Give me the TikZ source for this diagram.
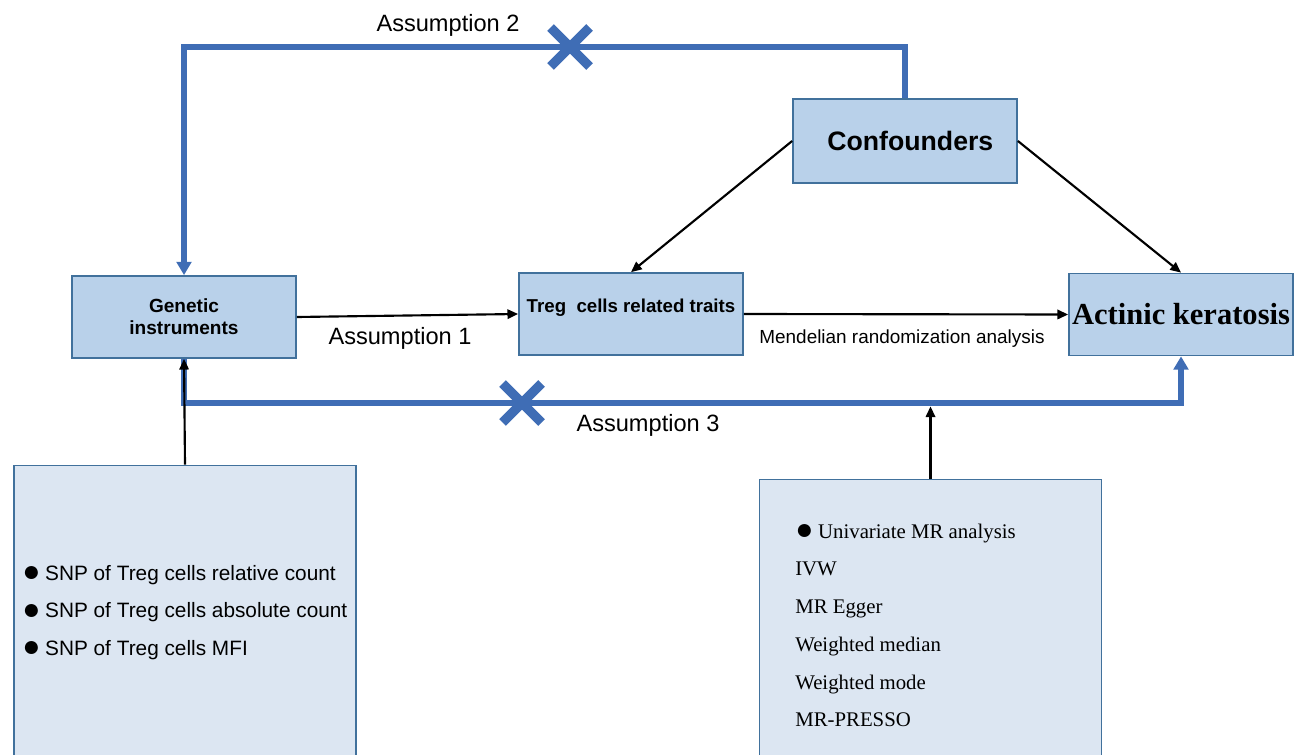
\documentclass[tikz,border=0pt]{standalone}
\usepackage{fontspec}
\setmainfont{Liberation Sans}
\newfontfamily\tnr{Liberation Serif}
\usetikzlibrary{arrows.meta}
\definecolor{boxfill}{HTML}{B9D1EA}
\definecolor{boxline}{HTML}{41719C}
\definecolor{lowfill}{HTML}{DCE6F2}
\definecolor{mrblue}{HTML}{3F6DB5}
\newcommand{\bigdot}{\raisebox{-1.2pt}{\scalebox{1.45}{●}}}
\begin{document}
\begin{tikzpicture}[x=0.75pt,y=-0.75pt,
  upbox/.style={draw=boxline, fill=boxfill, line width=1.3pt, inner sep=0pt,
                minimum width=168pt, minimum height=61.5pt, align=center},
  lowbox/.style={draw=boxline, fill=lowfill, line width=1.3pt, inner sep=0pt,
                 minimum width=256.5pt},
  blk/.style={line width=1.6pt, -{Triangle[length=8pt,width=7pt]}},
  bl/.style={draw=mrblue, line width=5pt},
  bltip/.style={-{Triangle[length=10pt,width=11pt]}},
  lab/.style={inner sep=0pt, font=\fontsize{17.7}{20}\selectfont},
  xbar/.style={draw=mrblue, line width=7pt, line cap=butt},
  snptext/.style={anchor=base west, inner sep=0pt, font=\fontsize{15.6}{18}\selectfont},
  mrtext/.style={anchor=base west, inner sep=0pt, font=\tnr\fontsize{15.6}{18}\selectfont},
]
\useasboundingbox (0,0) rectangle (1294,755);

% boxes
\node[upbox, font=\fontsize{14.3}{16.5}\selectfont\bfseries] (gen) at (184,317) {Genetic\\instruments};
\node[upbox, minimum height=63pt, font=\fontsize{20}{24}\selectfont\bfseries] (conf) at (905,141) {\hspace{8pt}Confounders};
\node[upbox, label={[inner sep=0pt, yshift=5pt, font=\fontsize{14}{16}\selectfont\bfseries]center:Treg~~cells related traits}] (treg) at (631,314) {};
\node[upbox, font=\tnr\fontsize{22.9}{26}\selectfont\bfseries] (ak) at (1181,314.5) {Actinic keratosis};
\node[lowbox, minimum height=228.75pt] (snp) at (185,618) {};
\node[lowbox, minimum height=218.25pt] (mr) at (930.5,625) {};

% blue assumption paths
\coordinate (ytop) at (0,47);
\coordinate (ybot) at (0,403);
\draw[bl, bltip] (conf.north) -- (conf.north |- ytop) -| (gen.north);
\draw[bl, bltip] (gen.south) -- (gen.south |- ybot) -| (ak.south);

% crosses
\coordinate (x2) at (570,47);
\coordinate (x3) at (522,403);
\foreach \c in {x2,x3}{
  \draw[xbar] ([shift={(-19.5,-19.5)}]\c) -- ([shift={(19.5,19.5)}]\c);
  \draw[xbar] ([shift={(-19.5,19.5)}]\c) -- ([shift={(19.5,-19.5)}]\c);
}

% black arrows
\draw[blk] (gen.east) -- (treg.west);
\draw[blk] (treg.east) -- (ak.west);
\draw[blk] (conf.west) -- (treg.north);
\draw[blk] (conf.east) -- (ak.north);
\draw[blk] (snp.north) -- (gen.south);
\draw[blk] (mr.north) -- ([yshift=-2.5pt]mr.north |- ybot);

% labels
\node[lab] (a2) at (448,25) {Assumption 2};
\node[lab] (a1) at (400,338) {Assumption 1};
\node[lab] (a3) at (648,425) {Assumption 3};
\node[inner sep=0pt, font=\fontsize{14.2}{16}\selectfont] (mra) at (902,339) {Mendelian randomization analysis};

% SNP list
\node[snptext] (s1) at (22,580) {\bigdot\hspace{3.5pt}SNP of Treg cells relative count};
\node[snptext] (s2) at (22,617.5) {\bigdot\hspace{3.5pt}SNP of Treg cells absolute count};
\node[snptext] (s3) at (22,655) {\bigdot\hspace{3.5pt}SNP of Treg cells MFI};

% MR list
\node[mrtext] (m1) at (795,538) {\bigdot\hspace{3.5pt}Univariate MR analysis};
\node[mrtext] (m2) at (795,575.5) {IVW};
\node[mrtext] (m3) at (795,613.5) {MR Egger};
\node[mrtext] (m4) at (795,651) {Weighted median};
\node[mrtext] (m5) at (795,689) {Weighted mode};
\node[mrtext] (m6) at (795,726) {MR-PRESSO};
\end{tikzpicture}
\end{document}
